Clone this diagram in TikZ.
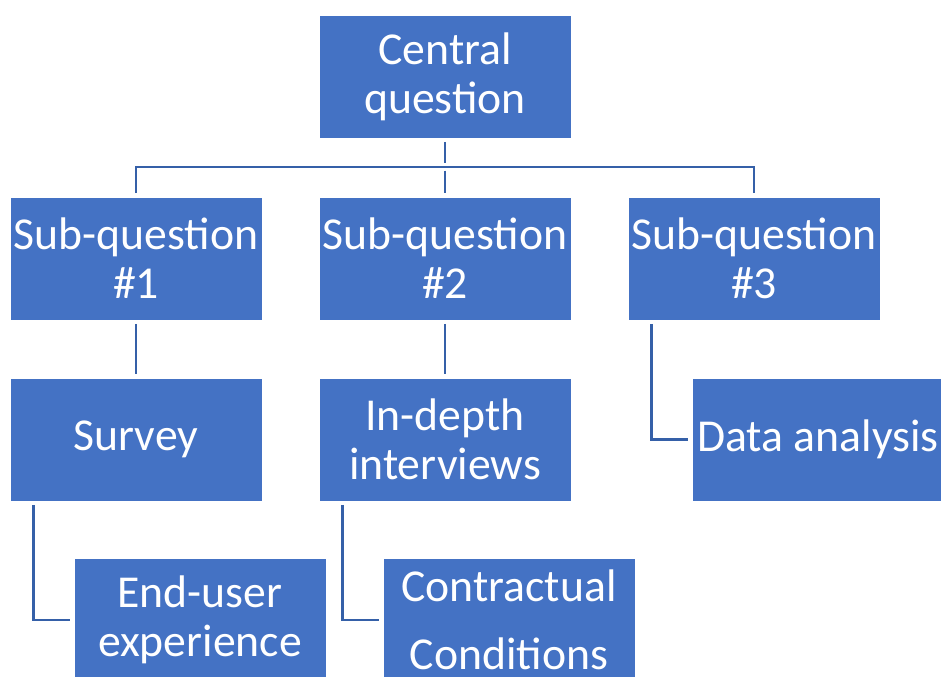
\documentclass[tikz,border=0pt]{standalone}
\usepackage{fontspec}
\setmainfont{Carlito}
\usepackage{xcolor}
\usepackage{tikz}
\definecolor{boxblue}{HTML}{4472C4}
\definecolor{lineblue}{HTML}{3560A8}

\begin{document}
\begin{tikzpicture}[
  box/.style={
    rectangle, fill=boxblue, draw=white, line width=0.4pt,
    text=white, align=center, inner sep=0pt,
    minimum width=5.04cm, minimum height=2.46cm,
    font=\fontsize{26}{28}\selectfont,
  },
  link/.style={draw=lineblue, line width=1.35pt,
               shorten <=0.07cm, shorten >=0.07cm},
]
  \useasboundingbox (0,0) rectangle (18.82,-13.54);
  \clip (0,0) rectangle (18.82,-13.54);
  % top
  \node[box] (central) at (8.9,-1.53) {Central\\question};
  % sub-questions
  \node[box] (subq1) at (2.72,-5.17) {Sub-question\\\#1};
  \node[box] (subq2) at (8.9,-5.17) {Sub-question\\\#2};
  \node[box] (subq3) at (15.08,-5.17) {Sub-question\\\#3};
  % methods
  \node[box] (survey) at (2.72,-8.79) {Survey};
  \node[box] (interviews) at (8.9,-8.79) {In-depth\\interviews};
  \node[box] (analysis) at (16.36,-8.79) {Data analysis};
  % topics
  \node[box] (enduser) at (4.0,-12.4) {End-user\\experience};
  \node[box] (contract) at (10.18,-12.4) {Contractual\\[0.42em]Conditions};
  % connectors
  \coordinate (bus) at (8.9,-3.34);
  \draw[link] (central.south) -- (bus);
  \draw[link] (subq1.north) |- (bus) -| (subq3.north);
  \draw[link] (bus) -- (subq2.north);
  \draw[link] (subq1.south) -- (survey.north);
  \draw[link] (subq2.south) -- (interviews.north);
  \draw[link] ([xshift=0.48cm]subq3.south west) |- (analysis.west);
  \draw[link] ([xshift=0.48cm]survey.south west) |- (enduser.west);
  \draw[link] ([xshift=0.48cm]interviews.south west) |- (contract.west);
\end{tikzpicture}
\end{document}
